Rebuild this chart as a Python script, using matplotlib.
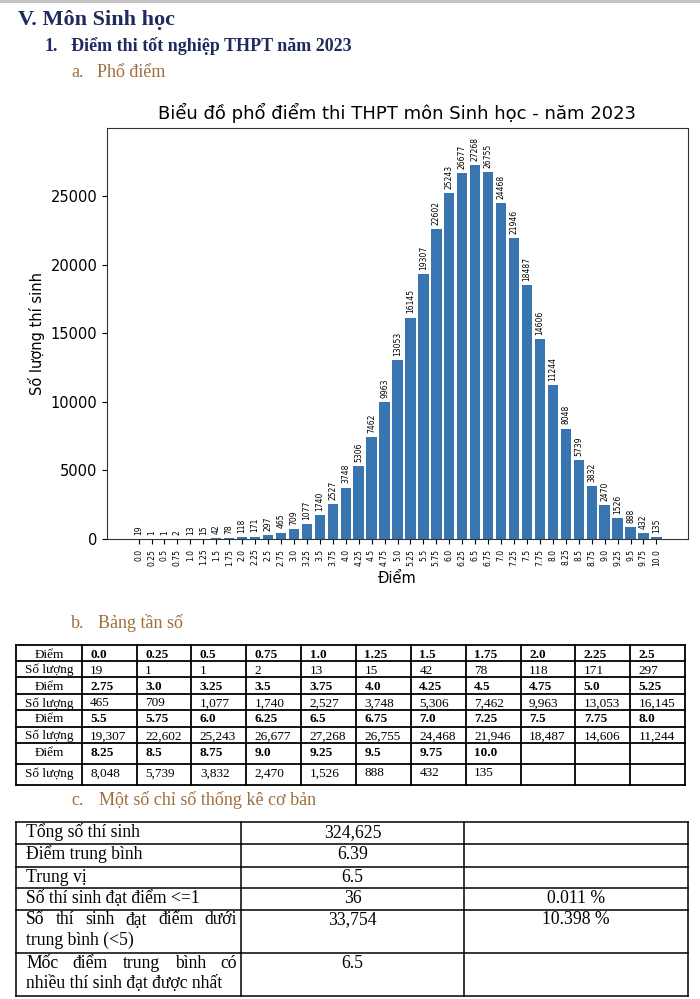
import matplotlib
matplotlib.use('Agg')
import matplotlib.pyplot as plt
from matplotlib.patches import Rectangle

# score levels (x axis / table header) and number of candidates per level
score_labels = ['0.0', '0.25', '0.5', '0.75', '1.0', '1.25', '1.5', '1.75', '2.0', '2.25', '2.5',
                '2.75', '3.0', '3.25', '3.5', '3.75', '4.0', '4.25', '4.5', '4.75', '5.0', '5.25',
                '5.5', '5.75', '6.0', '6.25', '6.5', '6.75', '7.0', '7.25', '7.5', '7.75', '8.0',
                '8.25', '8.5', '8.75', '9.0', '9.25', '9.5', '9.75', '10.0']
counts = [19, 1, 1, 2, 13, 15, 42, 78, 118, 171, 297,
          465, 709, 1077, 1740, 2527, 3748, 5306, 7462, 9963, 13053, 16145,
          19307, 22602, 25243, 26677, 27268, 26755, 24468, 21946, 18487, 14606, 11244,
          8048, 5739, 3832, 2470, 1526, 888, 432, 135]

# basic statistics table
stat_names = ['Tổng số thí sinh', 'Điểm trung bình', 'Trung vị', 'Số thí sinh đạt điểm <=1',
              'Số thí sinh đạt điểm dưới\ntrung bình (<5)',
              'Mốc điểm trung bình có\nnhiều thí sinh đạt được nhất']
stat_values = ['324,625', '6.39', '6.5', '36', '33,754', '6.5']
stat_percents = ['', '', '', '0.011 %', '10.398 %', '']

BLUE = '#3975b1'
NAVY = '#1f2b5e'
BROWN = '#a06e3c'
SERIF = 'Liberation Serif'

W, H = 700, 999
fig = plt.figure(figsize=(W / 100, H / 100), dpi=100)

# page layer in pixel coordinates
doc = fig.add_axes([0, 0, 1, 1])
doc.set_xlim(0, W)
doc.set_ylim(H, 0)
doc.axis('off')
doc.add_patch(Rectangle((0, 0), W, 2.5, color='#c4c4c4', lw=0))


def doc_text(x, y, s, size, color='black', weight='normal', ha='left'):
    return doc.text(x, y, s, fontsize=size, color=color, fontweight=weight,
                    family=SERIF, ha=ha, va='baseline')


doc_text(18, 25, 'V. Môn Sinh học', 16, NAVY, 'bold')
doc_text(45, 51, '1.', 13, NAVY, 'bold')
doc_text(71, 51, 'Điểm thi tốt nghiệp THPT năm 2023', 13, NAVY, 'bold')
doc_text(71, 77, 'a.', 13, BROWN)
doc_text(97, 77, 'Phổ điểm', 13, BROWN)
doc_text(71, 628, 'b.', 13, BROWN)
doc_text(97.5, 628, 'Bảng tần số', 13, BROWN)
doc_text(71, 805, 'c.', 13, BROWN)
doc_text(99, 805, 'Một số chỉ số thống kê cơ bản', 13, BROWN)

# bar chart
ax = fig.add_axes([107 / W, 1 - 539 / H, (688 - 107) / W, (539 - 127.7) / H])
xs = list(range(len(counts)))
ax.bar(xs, counts, width=0.8, color=BLUE)
ax.set_ylim(0, max(counts) * 1.1)
ax.set_xticks(xs)
ax.set_xticklabels(score_labels, rotation=90, fontsize=5.5)
ax.tick_params(axis='y', labelsize=10.5)
for sp in ax.spines.values():
    sp.set_color('#333333')
for xi, c in zip(xs, counts):
    ax.annotate(str(c), (xi, c), xytext=(0, 3), textcoords='offset points',
                rotation=90, ha='center', va='bottom', fontsize=5.5)
ax.set_title('Biểu đồ phổ điểm thi THPT môn Sinh học - năm 2023', fontsize=13)
ax.set_xlabel('Điểm', fontsize=10.5)
ax.set_ylabel('Số lượng thí sinh', fontsize=10.5)

# frequency table (4 blocks of 11 columns)
per_row = 11
t1_cols = [16] + [81.7 + 54.85 * i for i in range(per_row + 1)]
t1_rows = [645, 661, 677, 694, 710, 727, 743, 764, 785]
for xc in t1_cols:
    doc.plot([xc, xc], [t1_rows[0], t1_rows[-1]], color='black', lw=1.3)
for yr in t1_rows:
    doc.plot([t1_cols[0], t1_cols[-1]], [yr, yr], color='black', lw=1.3)

col0_mid = (t1_cols[0] + t1_cols[1]) / 2
for b in range(4):
    sc = score_labels[b * per_row:(b + 1) * per_row]
    ct = counts[b * per_row:(b + 1) * per_row]
    top_s = t1_rows[2 * b]
    top_c = t1_rows[2 * b + 1]
    doc_text(col0_mid, top_s + 12.5, 'Điểm', 9.5, ha='center')
    doc_text(col0_mid, top_c + 12.5, 'Số lượng', 9.5, ha='center')
    for i, (s, c) in enumerate(zip(sc, ct)):
        doc_text(t1_cols[i + 1] + 8.5, top_s + 12.5, s, 9.5, weight='bold')
        doc_text(t1_cols[i + 1] + 8.5, top_c + 12.5, f'{c:,}', 9.5)

# statistics table
t2_cols = [16, 240.7, 464.3, 688.3]
t2_rows = [822.3, 844.3, 866.7, 887.7, 910, 953.3, 995.7]
for xc in t2_cols:
    doc.plot([xc, xc], [t2_rows[0], t2_rows[-1]], color='black', lw=1.1)
for yr in t2_rows:
    doc.plot([t2_cols[0], t2_cols[-1]], [yr, yr], color='black', lw=1.1)

fig.canvas.draw()
renderer = fig.canvas.get_renderer()


def justified(x0, x1, y, line, size):
    words = line.split()
    texts = [doc_text(0, y, w, size) for w in words]
    widths = [t.get_window_extent(renderer).width for t in texts]
    gap = (x1 - x0 - sum(widths)) / (len(words) - 1)
    pos = x0
    for t, w in zip(texts, widths):
        t.set_x(pos)
        pos += w + gap


for r, (name, val, pct) in enumerate(zip(stat_names, stat_values, stat_percents)):
    base = t2_rows[r] + 15 if '\n' not in name else t2_rows[r] + 14.5
    lines = name.split('\n')
    for k, ln in enumerate(lines):
        y = base + 20 * k
        if k < len(lines) - 1:
            justified(26, 237, y, ln, 12.7)
        else:
            doc_text(26, y, ln, 12.7)
    doc_text((t2_cols[1] + t2_cols[2]) / 2, base, val, 12.7, ha='center')
    if pct:
        doc_text((t2_cols[2] + t2_cols[3]) / 2, base, pct, 12.7, ha='center')

fig.savefig('out.png', dpi=100)
